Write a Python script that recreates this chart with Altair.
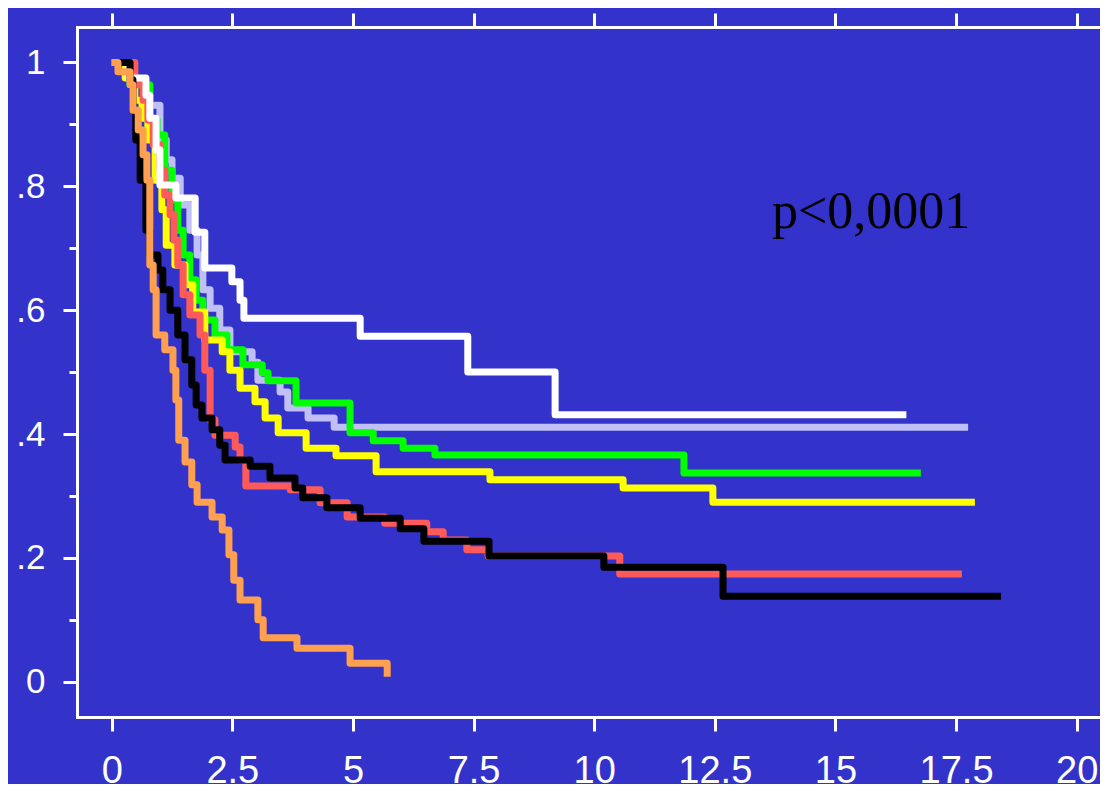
import altair as alt
import pandas as pd

# ---------------- data ----------------
series_names = ["Group 1", "Group 2", "Group 3", "Group 4", "Group 5", "Group 6", "Group 7"]
series_colors = ["#C0C0F6", "#00FF00", "#FFFF00", "#FF5A5A", "#FFFFFF", "#000000", "#FFA050"]

# Group 1 (lavender)
t_g1 = [0, 0.38, 0.69, 1.00, 1.13, 1.25, 1.42, 1.62, 1.77, 1.89, 2.04, 2.24, 2.45, 2.91, 3.03, 3.49, 3.65, 4.07, 4.61, 17.75]
s_g1 = [1.0, 0.972, 0.931, 0.875, 0.843, 0.813, 0.770, 0.729, 0.689, 0.633, 0.603, 0.568, 0.533, 0.516, 0.487, 0.468, 0.442, 0.426, 0.411, 0.411]

# Group 2 (green)
t_g2 = [0, 0.38, 0.79, 0.94, 1.10, 1.25, 1.37, 1.48, 1.62, 1.75, 1.89, 2.14, 2.39, 2.72, 3.12, 3.24, 3.82, 4.94, 5.42, 6.04, 6.70, 11.86, 16.77]
s_g2 = [1.0, 0.964, 0.907, 0.883, 0.826, 0.778, 0.729, 0.689, 0.649, 0.616, 0.584, 0.560, 0.536, 0.512, 0.499, 0.486, 0.450, 0.402, 0.389, 0.377, 0.366, 0.337, 0.337]

# Group 3 (yellow)
t_g3 = [0, 0.28, 0.48, 0.63, 0.75, 0.90, 1.04, 1.13, 1.31, 1.52, 1.68, 1.93, 2.29, 2.45, 2.66, 2.97, 3.18, 3.45, 4.03, 4.65, 5.48, 7.84, 10.60, 12.46, 17.89]
s_g3 = [1.0, 0.975, 0.939, 0.910, 0.875, 0.810, 0.762, 0.705, 0.673, 0.641, 0.597, 0.552, 0.533, 0.503, 0.474, 0.452, 0.426, 0.402, 0.377, 0.365, 0.339, 0.326, 0.313, 0.290, 0.290]

# Group 4 (red)
t_g4 = [0, 0.48, 0.65, 0.75, 0.86, 1.00, 1.10, 1.21, 1.29, 1.37, 1.48, 1.62, 1.83, 1.93, 2.04, 2.14, 2.56, 2.66, 2.78, 3.70, 4.32, 4.88, 5.66, 6.53, 6.87, 7.36, 7.80, 10.53, 17.62]
s_g4 = [1.0, 0.964, 0.939, 0.907, 0.867, 0.826, 0.786, 0.754, 0.713, 0.673, 0.625, 0.592, 0.560, 0.503, 0.423, 0.398, 0.379, 0.358, 0.316, 0.310, 0.289, 0.266, 0.256, 0.242, 0.229, 0.213, 0.203, 0.174, 0.174]

# Group 5 (white)
t_g5 = [0, 0.34, 0.71, 0.79, 0.92, 1.00, 1.33, 1.73, 1.93, 2.49, 2.66, 2.74, 5.15, 7.38, 9.19, 16.47]
s_g5 = [1.0, 0.975, 0.947, 0.910, 0.859, 0.802, 0.781, 0.726, 0.668, 0.646, 0.616, 0.587, 0.558, 0.500, 0.431, 0.431]

# Group 6 (black)
t_g6 = [0, 0.38, 0.44, 0.50, 0.59, 0.71, 0.79, 0.96, 1.06, 1.21, 1.37, 1.52, 1.66, 1.75, 1.87, 2.08, 2.24, 2.35, 2.87, 3.28, 3.80, 3.96, 4.46, 5.15, 5.98, 6.47, 7.82, 10.20, 12.67, 18.43]
s_g6 = [1.0, 0.972, 0.923, 0.875, 0.810, 0.729, 0.689, 0.665, 0.633, 0.600, 0.560, 0.520, 0.479, 0.447, 0.426, 0.407, 0.382, 0.358, 0.348, 0.329, 0.313, 0.297, 0.281, 0.264, 0.247, 0.227, 0.203, 0.185, 0.138, 0.138]

# Group 7 (orange)
t_g7 = [0, 0.13, 0.38, 0.44, 0.55, 0.65, 0.73, 0.79, 0.86, 0.92, 1.10, 1.27, 1.33, 1.39, 1.52, 1.66, 1.77, 2.08, 2.29, 2.43, 2.53, 2.66, 3.03, 3.14, 3.84, 4.94, 5.71]
s_g7 = [1.0, 0.985, 0.964, 0.923, 0.891, 0.851, 0.810, 0.673, 0.633, 0.560, 0.536, 0.503, 0.455, 0.390, 0.355, 0.318, 0.290, 0.266, 0.245, 0.205, 0.164, 0.132, 0.100, 0.071, 0.054, 0.030, 0.008]

series_t = [t_g1, t_g2, t_g3, t_g4, t_g5, t_g6, t_g7]
series_s = [s_g1, s_g2, s_g3, s_g4, s_g5, s_g6, s_g7]

x_tick_values = [0, 2.5, 5, 7.5, 10, 12.5, 15, 17.5, 20]
y_major_values = [0, 0.2, 0.4, 0.6, 0.8, 1.0]
y_minor_values = [0.1, 0.3, 0.5, 0.7, 0.9]

p_label = "p<0,0001"
p_t = 15.74
p_s = 0.733

# ---------------- chart ----------------
BG = "#3333CC"
xscale = alt.Scale(domain=[-0.719, 20.483], nice=False, zero=False)
yscale = alt.Scale(domain=[-0.057, 1.0573], nice=False, zero=False)

axis_style = dict(
    title=None, grid=False,
    domainColor="white", domainWidth=3, domainCap="square",
    tickColor="white", tickWidth=3,
    labelColor="white", labelFont="Liberation Sans",
    labelFlush=False, labelOverlap=False, labelBound=False,
)

x_bottom = alt.Axis(orient="bottom", values=x_tick_values, tickSize=14,
                    labelExpr="format(datum.value, '~g')",
                    labelFontSize=38, labelPadding=21, **axis_style)
y_left = alt.Axis(orient="left", values=y_major_values, tickSize=14, labelFontSize=35,
                  labelPadding=18,
                  labelExpr="datum.value == 0 ? '0' : datum.value >= 1 ? '1' : replace(format(datum.value, '.1f'), '0.', '.')",
                  **axis_style)
x_top = alt.Axis(orient="top", values=x_tick_values, labels=False, tickSize=14,
                 title=None, grid=False, domainColor="white", domainWidth=3,
                 tickColor="white", tickWidth=3)
y_minor = alt.Axis(orient="left", values=y_minor_values, labels=False, tickSize=8,
                   title=None, grid=False, domain=False, tickColor="white", tickWidth=3)

layers = []
for i, (name, col, ts, ss) in enumerate(zip(series_names, series_colors, series_t, series_s)):
    df = pd.DataFrame({"t": ts, "s": ss, "group": name})
    layer = alt.Chart(df).mark_line(
        interpolate="step-after", strokeWidth=7, strokeJoin="round", strokeCap="butt", color=col
    ).encode(
        x=alt.X("t:Q", scale=xscale, axis=x_bottom if i == 0 else None),
        y=alt.Y("s:Q", scale=yscale, axis=y_left if i == 0 else None),
    )
    layers.append(layer)

ptext = alt.Chart(pd.DataFrame({"t": [p_t], "s": [p_s], "label": [p_label]})).mark_text(
    font="Liberation Serif", fontSize=52, color="black", align="center", baseline="alphabetic"
).encode(
    x=alt.X("t:Q", scale=xscale, axis=x_top),
    y=alt.Y("s:Q", scale=yscale, axis=y_minor),
    text="label:N",
)
layers.append(ptext)

chart = alt.layer(*layers).resolve_axis(x="independent", y="independent").properties(
    width=1023, height=690,
    padding={"left": 69, "top": 19, "right": 0, "bottom": 67},
    autosize=alt.AutoSizeParams(type="none"),
    background=BG,
).configure_view(stroke=None)

chart.save("out.html", embed_options={"renderer": "svg", "actions": False})
